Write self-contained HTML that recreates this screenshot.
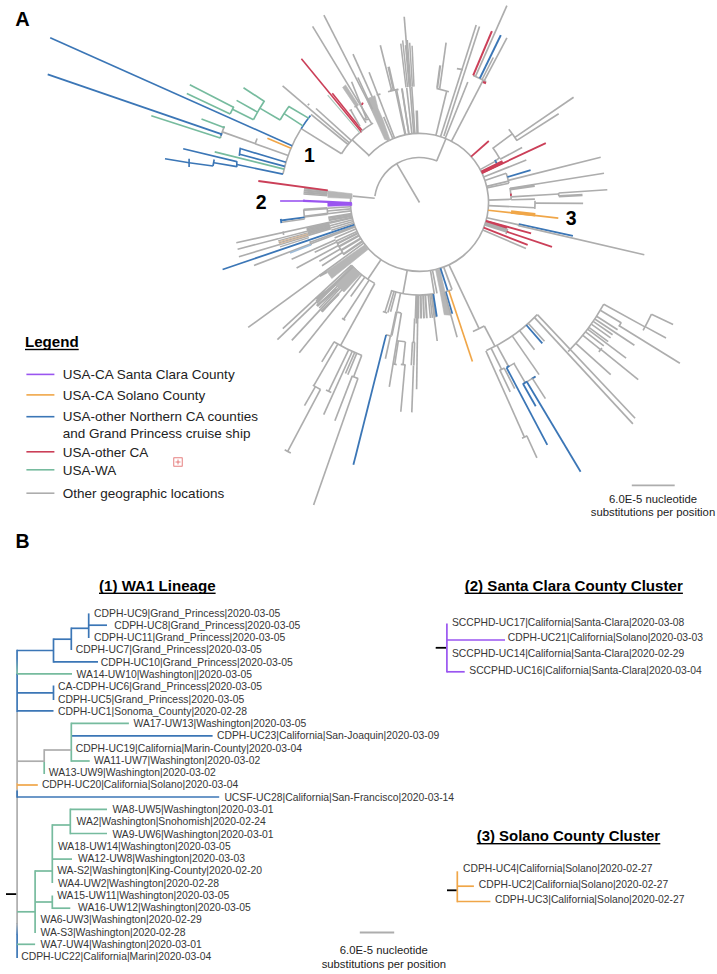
<!DOCTYPE html>
<html><head><meta charset="utf-8"><title>Figure</title>
<style>html,body{margin:0;padding:0;background:#fff}svg{display:block;font-family:"Liberation Sans",sans-serif}</style></head>
<body><svg width="717" height="974" viewBox="0 0 717 974">
<rect width="717" height="974" fill="#fff"/>
<text x="15.3" y="26.3" font-size="20" font-weight="bold" text-anchor="start" fill="#000" >A</text>
<text x="15.6" y="548.4" font-size="19.5" font-weight="bold" text-anchor="start" fill="#000" >B</text>
<text x="304.0" y="161.8" font-size="19.5" font-weight="bold" text-anchor="start" fill="#000" >1</text>
<text x="255.7" y="208.8" font-size="19.5" font-weight="bold" text-anchor="start" fill="#000" >2</text>
<text x="565.7" y="224.8" font-size="19.5" font-weight="bold" text-anchor="start" fill="#000" >3</text>
<rect x="25.0" y="348.8" width="53.7" height="1.4" fill="#000"/>
<text x="25.0" y="347.2" font-size="15.1" font-weight="bold" text-anchor="start" fill="#000" >Legend</text>
<line x1="26.4" y1="374.4" x2="54.4" y2="374.4" stroke="#9a55f0" stroke-width="1.6" stroke-linecap="butt"/>
<text x="62.8" y="379.1" font-size="13.5" font-weight="normal" text-anchor="start" fill="#222" >USA-CA Santa Clara County</text>
<line x1="26.4" y1="394.9" x2="54.4" y2="394.9" stroke="#f0a648" stroke-width="1.6" stroke-linecap="butt"/>
<text x="62.8" y="399.6" font-size="13.5" font-weight="normal" text-anchor="start" fill="#222" >USA-CA Solano County</text>
<line x1="26.4" y1="416.7" x2="54.4" y2="416.7" stroke="#3b76b6" stroke-width="1.6" stroke-linecap="butt"/>
<text x="62.8" y="421.4" font-size="13.5" font-weight="normal" text-anchor="start" fill="#222" >USA-other Northern CA counties</text>
<line x1="26.4" y1="451.8" x2="54.4" y2="451.8" stroke="#cb3f58" stroke-width="1.6" stroke-linecap="butt"/>
<text x="62.8" y="456.5" font-size="13.5" font-weight="normal" text-anchor="start" fill="#222" >USA-other CA</text>
<line x1="26.4" y1="469.8" x2="54.4" y2="469.8" stroke="#76bb9e" stroke-width="1.6" stroke-linecap="butt"/>
<text x="62.8" y="474.5" font-size="13.5" font-weight="normal" text-anchor="start" fill="#222" >USA-WA</text>
<line x1="26.4" y1="493.2" x2="54.4" y2="493.2" stroke="#adadad" stroke-width="1.6" stroke-linecap="butt"/>
<text x="62.8" y="497.9" font-size="13.5" font-weight="normal" text-anchor="start" fill="#222" >Other geographic locations</text>
<text x="62.8" y="437.7" font-size="13.5" font-weight="normal" text-anchor="start" fill="#222" >and Grand Princess cruise ship</text>
<g stroke="#e06060" stroke-width="0.8" fill="none"><rect x="173.8" y="457.8" width="8.4" height="8.4"/><line x1="175.5" y1="462" x2="180.5" y2="462"/><line x1="178" y1="459.5" x2="178" y2="464.5"/></g>
<line x1="631.8" y1="485.3" x2="674.7" y2="485.3" stroke="#adadad" stroke-width="1.8" stroke-linecap="butt"/>
<text x="653.0" y="502.8" font-size="11.3" font-weight="normal" text-anchor="middle" fill="#222" >6.0E-5 nucleotide</text>
<text x="653.0" y="516.4" font-size="11.3" font-weight="normal" text-anchor="middle" fill="#222" >substitutions per position</text>
<line x1="359.8" y1="932.5" x2="394.2" y2="932.5" stroke="#adadad" stroke-width="1.8" stroke-linecap="butt"/>
<text x="383.8" y="954.4" font-size="11.3" font-weight="normal" text-anchor="middle" fill="#222" >6.0E-5 nucleotide</text>
<text x="383.8" y="967.9" font-size="11.3" font-weight="normal" text-anchor="middle" fill="#222" >substitutions per position</text>
<rect x="99.0" y="592.6" width="116.6" height="1.4" fill="#000"/>
<text x="99.0" y="591.0" font-size="15.1" font-weight="bold" text-anchor="start" fill="#000" >(1) WA1 Lineage</text>
<rect x="464.7" y="592.6" width="218.2" height="1.4" fill="#000"/>
<text x="464.7" y="591.0" font-size="15.1" font-weight="bold" text-anchor="start" fill="#000" >(2) Santa Clara County Cluster</text>
<rect x="476.7" y="843.0" width="183.6" height="1.4" fill="#000"/>
<text x="476.7" y="841.4" font-size="14.95" font-weight="bold" text-anchor="start" fill="#000" >(3) Solano County Cluster</text>
<text x="94.1" y="616.6" font-size="10.37" font-weight="normal" text-anchor="start" fill="#363636" >CDPH-UC9|Grand_Princess|2020-03-05</text>
<text x="114.2" y="628.9" font-size="10.37" font-weight="normal" text-anchor="start" fill="#363636" >CDPH-UC8|Grand_Princess|2020-03-05</text>
<text x="94.1" y="641.1" font-size="10.37" font-weight="normal" text-anchor="start" fill="#363636" >CDPH-UC11|Grand_Princess|2020-03-05</text>
<text x="75.7" y="653.4" font-size="10.37" font-weight="normal" text-anchor="start" fill="#363636" >CDPH-UC7|Grand_Princess|2020-03-05</text>
<text x="100.8" y="665.7" font-size="10.37" font-weight="normal" text-anchor="start" fill="#363636" >CDPH-UC10|Grand_Princess|2020-03-05</text>
<text x="76.6" y="678.0" font-size="10.37" font-weight="normal" text-anchor="start" fill="#363636" >WA14-UW10|Washington||2020-03-05</text>
<text x="58.0" y="690.2" font-size="10.37" font-weight="normal" text-anchor="start" fill="#363636" >CA-CDPH-UC6|Grand_Princess|2020-03-05</text>
<text x="58.0" y="702.5" font-size="10.37" font-weight="normal" text-anchor="start" fill="#363636" >CDPH-UC5|Grand_Princess|2020-03-05</text>
<text x="58.0" y="714.8" font-size="10.37" font-weight="normal" text-anchor="start" fill="#363636" >CDPH-UC1|Sonoma_County|2020-02-28</text>
<text x="133.5" y="727.0" font-size="10.37" font-weight="normal" text-anchor="start" fill="#363636" >WA17-UW13|Washington|2020-03-05</text>
<text x="217.0" y="739.3" font-size="10.37" font-weight="normal" text-anchor="start" fill="#363636" >CDPH-UC23|California|San-Joaquin|2020-03-09</text>
<text x="75.7" y="751.6" font-size="10.37" font-weight="normal" text-anchor="start" fill="#363636" >CDPH-UC19|California|Marin-County|2020-03-04</text>
<text x="94.0" y="763.8" font-size="10.37" font-weight="normal" text-anchor="start" fill="#363636" >WA11-UW7|Washington|2020-03-02</text>
<text x="48.8" y="776.1" font-size="10.37" font-weight="normal" text-anchor="start" fill="#363636" >WA13-UW9|Washington|2020-03-02</text>
<text x="41.9" y="788.4" font-size="10.37" font-weight="normal" text-anchor="start" fill="#363636" >CDPH-UC20|California|Solano|2020-03-04</text>
<text x="224.4" y="800.6" font-size="10.37" font-weight="normal" text-anchor="start" fill="#363636" >UCSF-UC28|California|San-Francisco|2020-03-14</text>
<text x="112.4" y="812.9" font-size="10.37" font-weight="normal" text-anchor="start" fill="#363636" >WA8-UW5|Washington|2020-03-01</text>
<text x="76.6" y="825.2" font-size="10.37" font-weight="normal" text-anchor="start" fill="#363636" >WA2|Washington|Snohomish|2020-02-24</text>
<text x="112.4" y="837.5" font-size="10.37" font-weight="normal" text-anchor="start" fill="#363636" >WA9-UW6|Washington|2020-03-01</text>
<text x="57.9" y="849.7" font-size="10.37" font-weight="normal" text-anchor="start" fill="#363636" >WA18-UW14|Washington|2020-03-05</text>
<text x="78.0" y="862.0" font-size="10.37" font-weight="normal" text-anchor="start" fill="#363636" >WA12-UW8|Washington|2020-03-03</text>
<text x="57.2" y="874.3" font-size="10.37" font-weight="normal" text-anchor="start" fill="#363636" >WA-S2|Washington|King-County|2020-02-20</text>
<text x="57.9" y="886.5" font-size="10.37" font-weight="normal" text-anchor="start" fill="#363636" >WA4-UW2|Washington|2020-02-28</text>
<text x="57.2" y="898.8" font-size="10.37" font-weight="normal" text-anchor="start" fill="#363636" >WA15-UW11|Washington|2020-03-05</text>
<text x="78.0" y="911.1" font-size="10.37" font-weight="normal" text-anchor="start" fill="#363636" >WA16-UW12|Washington|2020-03-05</text>
<text x="40.5" y="923.4" font-size="10.37" font-weight="normal" text-anchor="start" fill="#363636" >WA6-UW3|Washington|2020-02-29</text>
<text x="40.5" y="935.6" font-size="10.37" font-weight="normal" text-anchor="start" fill="#363636" >WA-S3|Washington|2020-02-28</text>
<text x="40.5" y="947.9" font-size="10.37" font-weight="normal" text-anchor="start" fill="#363636" >WA7-UW4|Washington|2020-03-01</text>
<text x="21.2" y="960.2" font-size="10.37" font-weight="normal" text-anchor="start" fill="#363636" >CDPH-UC22|California|Marin|2020-03-04</text>
<defs><linearGradient id="g1" x1="0" y1="0" x2="0" y2="1"><stop offset="0" stop-color="#3b76b6"/><stop offset="0.35" stop-color="#3b76b6"/><stop offset="1" stop-color="#76bb9e"/></linearGradient><linearGradient id="g2" x1="0" y1="0" x2="0" y2="1"><stop offset="0" stop-color="#adadad"/><stop offset="1" stop-color="#3b76b6"/></linearGradient></defs>
<rect x="16.2" y="649.7" width="1.7" height="25.0" fill="url(#g1)"/>
<line x1="17.1" y1="673.8" x2="17.1" y2="712.5" stroke="#3b76b6" stroke-width="1.7" stroke-linecap="butt"/>
<line x1="17.1" y1="712.5" x2="17.1" y2="924.0" stroke="#adadad" stroke-width="1.7" stroke-linecap="butt"/>
<rect x="16.2" y="923.0" width="1.7" height="12.0" fill="url(#g2)"/>
<line x1="17.1" y1="934.8" x2="17.1" y2="958.0" stroke="#3b76b6" stroke-width="1.7" stroke-linecap="butt"/>
<line x1="17.1" y1="783.0" x2="17.1" y2="789.0" stroke="#e9b77c" stroke-width="1.7" stroke-linecap="butt"/>
<line x1="17.1" y1="790.5" x2="17.1" y2="797.8" stroke="#3b76b6" stroke-width="1.7" stroke-linecap="butt"/>
<line x1="17.1" y1="650.5" x2="53.5" y2="650.5" stroke="#3b76b6" stroke-width="1.7" stroke-linecap="butt"/>
<line x1="53.5" y1="638.4" x2="53.5" y2="662.7" stroke="#3b76b6" stroke-width="1.7" stroke-linecap="butt"/>
<line x1="53.5" y1="639.2" x2="71.3" y2="639.2" stroke="#3b76b6" stroke-width="1.7" stroke-linecap="butt"/>
<line x1="71.3" y1="627.5" x2="71.3" y2="650.0" stroke="#3b76b6" stroke-width="1.7" stroke-linecap="butt"/>
<line x1="71.3" y1="628.3" x2="88.7" y2="628.3" stroke="#3b76b6" stroke-width="1.7" stroke-linecap="butt"/>
<line x1="88.7" y1="613.4" x2="88.7" y2="638.0" stroke="#3b76b6" stroke-width="1.7" stroke-linecap="butt"/>
<line x1="88.7" y1="625.2" x2="107.0" y2="625.2" stroke="#3b76b6" stroke-width="1.7" stroke-linecap="butt"/>
<line x1="53.5" y1="661.9" x2="98.0" y2="661.9" stroke="#3b76b6" stroke-width="1.7" stroke-linecap="butt"/>
<line x1="17.1" y1="673.8" x2="72.0" y2="673.8" stroke="#76bb9e" stroke-width="1.7" stroke-linecap="butt"/>
<line x1="17.1" y1="692.9" x2="53.5" y2="692.9" stroke="#3b76b6" stroke-width="1.7" stroke-linecap="butt"/>
<line x1="53.5" y1="685.5" x2="53.5" y2="700.0" stroke="#3b76b6" stroke-width="1.7" stroke-linecap="butt"/>
<line x1="17.1" y1="710.8" x2="53.5" y2="710.8" stroke="#3b76b6" stroke-width="1.7" stroke-linecap="butt"/>
<line x1="71.3" y1="723.4" x2="128.9" y2="723.4" stroke="#76bb9e" stroke-width="1.7" stroke-linecap="butt"/>
<line x1="71.3" y1="735.8" x2="212.6" y2="735.8" stroke="#3b76b6" stroke-width="1.7" stroke-linecap="butt"/>
<line x1="71.3" y1="722.6" x2="71.3" y2="761.8" stroke="#76bb9e" stroke-width="1.7" stroke-linecap="butt"/>
<line x1="71.3" y1="761.0" x2="89.7" y2="761.0" stroke="#76bb9e" stroke-width="1.7" stroke-linecap="butt"/>
<line x1="44.2" y1="750.0" x2="71.3" y2="750.0" stroke="#adadad" stroke-width="1.7" stroke-linecap="butt"/>
<line x1="44.2" y1="749.2" x2="44.2" y2="762.0" stroke="#adadad" stroke-width="1.7" stroke-linecap="butt"/>
<line x1="44.2" y1="762.0" x2="44.2" y2="774.0" stroke="#76bb9e" stroke-width="1.7" stroke-linecap="butt"/>
<line x1="17.1" y1="761.2" x2="44.2" y2="761.2" stroke="#adadad" stroke-width="1.7" stroke-linecap="butt"/>
<line x1="17.1" y1="785.0" x2="37.8" y2="785.0" stroke="#f0a648" stroke-width="1.7" stroke-linecap="butt"/>
<line x1="17.1" y1="797.0" x2="219.2" y2="797.0" stroke="#3b76b6" stroke-width="1.7" stroke-linecap="butt"/>
<line x1="70.3" y1="809.4" x2="107.0" y2="809.4" stroke="#76bb9e" stroke-width="1.7" stroke-linecap="butt"/>
<line x1="70.3" y1="808.6" x2="70.3" y2="834.3" stroke="#76bb9e" stroke-width="1.7" stroke-linecap="butt"/>
<line x1="70.3" y1="833.5" x2="107.0" y2="833.5" stroke="#76bb9e" stroke-width="1.7" stroke-linecap="butt"/>
<line x1="52.3" y1="825.0" x2="70.3" y2="825.0" stroke="#76bb9e" stroke-width="1.7" stroke-linecap="butt"/>
<line x1="52.3" y1="824.2" x2="52.3" y2="883.0" stroke="#76bb9e" stroke-width="1.7" stroke-linecap="butt"/>
<line x1="52.3" y1="859.1" x2="72.0" y2="859.1" stroke="#76bb9e" stroke-width="1.7" stroke-linecap="butt"/>
<line x1="35.1" y1="871.0" x2="52.3" y2="871.0" stroke="#76bb9e" stroke-width="1.7" stroke-linecap="butt"/>
<line x1="35.1" y1="870.2" x2="35.1" y2="933.0" stroke="#76bb9e" stroke-width="1.7" stroke-linecap="butt"/>
<line x1="52.3" y1="895.5" x2="52.3" y2="909.0" stroke="#76bb9e" stroke-width="1.7" stroke-linecap="butt"/>
<line x1="35.1" y1="902.0" x2="52.3" y2="902.0" stroke="#76bb9e" stroke-width="1.7" stroke-linecap="butt"/>
<line x1="52.3" y1="908.2" x2="70.3" y2="908.2" stroke="#76bb9e" stroke-width="1.7" stroke-linecap="butt"/>
<line x1="17.1" y1="911.8" x2="35.1" y2="911.8" stroke="#76bb9e" stroke-width="1.7" stroke-linecap="butt"/>
<line x1="17.1" y1="944.3" x2="35.1" y2="944.3" stroke="#76bb9e" stroke-width="1.7" stroke-linecap="butt"/>
<line x1="6.0" y1="894.1" x2="16.2" y2="894.1" stroke="#000" stroke-width="1.8" stroke-linecap="butt"/>
<text x="451.9" y="625.5" font-size="10.3" font-weight="normal" text-anchor="start" fill="#363636" >SCCPHD-UC17|California|Santa-Clara|2020-03-08</text>
<text x="507.8" y="641.2" font-size="10.3" font-weight="normal" text-anchor="start" fill="#363636" >CDPH-UC21|California|Solano|2020-03-03</text>
<text x="451.9" y="657.4" font-size="10.3" font-weight="normal" text-anchor="start" fill="#363636" >SCCPHD-UC14|California|Santa-Clara|2020-02-29</text>
<text x="469.3" y="673.6" font-size="10.3" font-weight="normal" text-anchor="start" fill="#363636" >SCCPHD-UC16|California|Santa-Clara|2020-03-04</text>
<line x1="446.9" y1="623.4" x2="446.9" y2="672.6" stroke="#9a55f0" stroke-width="1.7" stroke-linecap="butt"/>
<line x1="446.9" y1="640.0" x2="505.0" y2="640.0" stroke="#9a55f0" stroke-width="1.7" stroke-linecap="butt"/>
<line x1="446.9" y1="671.8" x2="464.7" y2="671.8" stroke="#9a55f0" stroke-width="1.7" stroke-linecap="butt"/>
<line x1="435.7" y1="647.8" x2="446.0" y2="647.8" stroke="#000" stroke-width="1.8" stroke-linecap="butt"/>
<text x="463.1" y="872.3" font-size="10.3" font-weight="normal" text-anchor="start" fill="#363636" >CDPH-UC4|California|Solano|2020-02-27</text>
<text x="478.8" y="888.0" font-size="10.3" font-weight="normal" text-anchor="start" fill="#363636" >CDPH-UC2|California|Solano|2020-02-27</text>
<text x="495.0" y="903.3" font-size="10.3" font-weight="normal" text-anchor="start" fill="#363636" >CDPH-UC3|California|Solano|2020-02-27</text>
<line x1="457.3" y1="871.3" x2="457.3" y2="902.3" stroke="#f0a648" stroke-width="1.7" stroke-linecap="butt"/>
<line x1="457.3" y1="886.2" x2="473.9" y2="886.2" stroke="#f0a648" stroke-width="1.7" stroke-linecap="butt"/>
<line x1="457.3" y1="901.5" x2="490.4" y2="901.5" stroke="#f0a648" stroke-width="1.7" stroke-linecap="butt"/>
<line x1="447.0" y1="890.3" x2="456.5" y2="890.3" stroke="#000" stroke-width="1.8" stroke-linecap="butt"/>
<g id="treeA">
<line x1="419.5" y1="202.5" x2="396.7" y2="163.7" stroke="#adadad" stroke-width="1.65"/>
<path d="M374.9,196.2 A45.0,45.0 0 0 1 437.1,161.1" fill="none" stroke="#adadad" stroke-width="1.65"/>
<line x1="374.7" y1="198.2" x2="352.8" y2="196.1" stroke="#adadad" stroke-width="1.65"/>
<line x1="436.7" y1="160.9" x2="445.9" y2="138.8" stroke="#adadad" stroke-width="1.65"/>
<path d="M368.2,156.3 A69.0,69.0 0 1 1 350.7,197.7" fill="none" stroke="#adadad" stroke-width="1.65"/>
<line x1="369.0" y1="155.4" x2="352.2" y2="139.8" stroke="#adadad" stroke-width="1.65"/>
<path d="M341.5,153.7 A92.0,92.0 0 0 1 361.1,131.4" fill="none" stroke="#adadad" stroke-width="1.65"/>
<line x1="341.5" y1="153.7" x2="301.2" y2="128.6" stroke="#adadad" stroke-width="1.65"/>
<path d="M282.9,174.1 A139.5,139.5 0 0 1 301.2,128.6" fill="none" stroke="#adadad" stroke-width="1.65"/>
<path d="M301.2,128.6 A139.5,139.5 0 0 1 310.5,115.5" fill="none" stroke="#3b76b6" stroke-width="1.65"/>
<line x1="349.4" y1="142.9" x2="282.6" y2="85.9" stroke="#adadad" stroke-width="1.65"/>
<path d="M307.8,105.3 A148.1,148.1 0 0 1 309.2,103.7" fill="none" stroke="#adadad" stroke-width="1.65"/>
<line x1="351.4" y1="140.7" x2="316.0" y2="108.5" stroke="#adadad" stroke-width="1.65"/>
<line x1="348.1" y1="144.5" x2="311.0" y2="114.4" stroke="#adadad" stroke-width="1.65"/>
<line x1="361.7" y1="132.2" x2="301.4" y2="58.7" stroke="#cb3f58" stroke-width="1.6"/>
<line x1="359.7" y1="132.6" x2="327.7" y2="95.1" stroke="#a9c7ba" stroke-width="1.1"/>
<line x1="362.1" y1="130.6" x2="332.3" y2="93.2" stroke="#cb3f58" stroke-width="1.6"/>
<line x1="292.1" y1="145.7" x2="50.2" y2="37.7" stroke="#3b76b6" stroke-width="1.7"/>
<path d="M220.4,137.4 A209.5,209.5 0 0 1 224.3,126.4" fill="none" stroke="#adadad" stroke-width="1.65"/>
<line x1="288.2" y1="155.5" x2="222.3" y2="131.9" stroke="#adadad" stroke-width="1.65"/>
<path d="M255.2,143.7 A174.5,174.5 0 0 1 257.1,138.5" fill="none" stroke="#adadad" stroke-width="1.65"/>
<line x1="223.9" y1="127.6" x2="201.5" y2="119.0" stroke="#76bb9e" stroke-width="1.65"/>
<line x1="221.4" y1="134.2" x2="47.7" y2="74.3" stroke="#3b76b6" stroke-width="1.8"/>
<line x1="220.2" y1="138.0" x2="151.3" y2="115.7" stroke="#76bb9e" stroke-width="1.65"/>
<path d="M220.1,138.1 A209.5,209.5 0 0 1 220.6,136.7" fill="none" stroke="#76bb9e" stroke-width="1.65"/>
<path d="M223.7,128.1 A209.5,209.5 0 0 1 224.3,126.4" fill="none" stroke="#76bb9e" stroke-width="1.65"/>
<path d="M220.9,135.7 A209.5,209.5 0 0 1 221.8,133.3" fill="none" stroke="#3b76b6" stroke-width="1.65"/>
<line x1="291.0" y1="148.3" x2="267.4" y2="138.3" stroke="#f0a648" stroke-width="1.65"/>
<line x1="233.5" y1="107.2" x2="189.8" y2="84.8" stroke="#76bb9e" stroke-width="1.65"/>
<line x1="230.2" y1="113.9" x2="186.8" y2="93.6" stroke="#76bb9e" stroke-width="1.65"/>
<path d="M230.2,113.8 A209.0,209.0 0 0 1 233.8,106.6" fill="none" stroke="#76bb9e" stroke-width="1.65"/>
<line x1="253.5" y1="119.7" x2="232.5" y2="109.2" stroke="#76bb9e" stroke-width="1.65"/>
<path d="M253.5,119.7 A185.5,185.5 0 0 1 264.5,100.7" fill="none" stroke="#76bb9e" stroke-width="1.65"/>
<line x1="264.1" y1="101.2" x2="243.5" y2="87.7" stroke="#76bb9e" stroke-width="1.65"/>
<line x1="257.5" y1="112.1" x2="236.6" y2="100.4" stroke="#76bb9e" stroke-width="1.65"/>
<line x1="280.1" y1="120.0" x2="259.8" y2="108.1" stroke="#76bb9e" stroke-width="1.65"/>
<path d="M280.1,120.0 A162.0,162.0 0 0 1 288.9,106.6" fill="none" stroke="#76bb9e" stroke-width="1.65"/>
<line x1="302.9" y1="125.9" x2="284.1" y2="113.6" stroke="#76bb9e" stroke-width="1.65"/>
<polyline points="288.4,106.2 308.9,118.4" fill="none" stroke="#76bb9e" stroke-width="1.65" stroke-linejoin="round"/>
<polyline points="183.2,148.8 236.8,161.6" fill="none" stroke="#3b76b6" stroke-width="1.65" stroke-linejoin="round"/>
<polyline points="236.8,161.1 236.8,167.1" fill="none" stroke="#3b76b6" stroke-width="1.65" stroke-linejoin="round"/>
<polyline points="165.0,158.8 189.1,162.8" fill="none" stroke="#3b76b6" stroke-width="1.65" stroke-linejoin="round"/>
<polyline points="189.1,158.8 189.1,167.0" fill="none" stroke="#3b76b6" stroke-width="1.65" stroke-linejoin="round"/>
<polyline points="189.1,162.8 213.0,166.0" fill="none" stroke="#3b76b6" stroke-width="1.65" stroke-linejoin="round"/>
<polyline points="213.0,166.0 214.2,159.5" fill="none" stroke="#3b76b6" stroke-width="1.65" stroke-linejoin="round"/>
<polyline points="214.0,162.8 236.8,166.6" fill="none" stroke="#3b76b6" stroke-width="1.65" stroke-linejoin="round"/>
<line x1="282.9" y1="174.1" x2="236.8" y2="164.5" stroke="#3b76b6" stroke-width="1.65"/>
<line x1="285.9" y1="162.3" x2="241.0" y2="148.8" stroke="#3b76b6" stroke-width="1.65"/>
<line x1="284.8" y1="166.4" x2="239.7" y2="154.3" stroke="#3b76b6" stroke-width="1.65"/>
<polyline points="240.3,147.7 239.3,155.9" fill="none" stroke="#3b76b6" stroke-width="1.65" stroke-linejoin="round"/>
<line x1="284.1" y1="169.1" x2="214.7" y2="151.9" stroke="#76bb9e" stroke-width="1.65"/>
<path d="M361.1,131.4 A92.0,92.0 0 0 1 373.1,123.1" fill="none" stroke="#adadad" stroke-width="1.65"/>
<line x1="371.8" y1="123.9" x2="312.6" y2="26.4" stroke="#adadad" stroke-width="1.65"/>
<line x1="388.1" y1="141.0" x2="323.9" y2="15.1" stroke="#adadad" stroke-width="1.65"/>
<line x1="391.5" y1="89.9" x2="380.3" y2="45.2" stroke="#adadad" stroke-width="1.65"/>
<line x1="372.5" y1="97.6" x2="353.0" y2="54.2" stroke="#adadad" stroke-width="1.65"/>
<polygon points="366.5,99.1 374.9,95.7 378.1,108.6 383.0,119.7 390.3,140.7 384.7,139.5" fill="#b6b6b6" stroke="#b6b6b6" stroke-width="0.6"/>
<polygon points="342.6,87.4 345.6,84.9 358.6,105.1 355.8,106.9" fill="#b6b6b6" stroke="#b6b6b6" stroke-width="0.6"/>
<polyline points="351.6,81.8 366.5,118.6" fill="none" stroke="#adadad" stroke-width="1.65" stroke-linejoin="round"/>
<polyline points="357.9,77.5 372.5,109.3" fill="none" stroke="#adadad" stroke-width="1.65" stroke-linejoin="round"/>
<polyline points="356.2,106.5 366.0,122.8" fill="none" stroke="#adadad" stroke-width="1.65" stroke-linejoin="round"/>
<polyline points="364.2,118.3 366.5,119.7 369.1,119.0" fill="none" stroke="#adadad" stroke-width="1.65" stroke-linejoin="round"/>
<polyline points="349.5,110.5 352.0,109.7" fill="none" stroke="#adadad" stroke-width="1.65" stroke-linejoin="round"/>
<polyline points="354.4,106.9 357.2,105.8" fill="none" stroke="#adadad" stroke-width="1.65" stroke-linejoin="round"/>
<polyline points="350.9,110.3 360.0,126.4" fill="none" stroke="#adadad" stroke-width="1.65" stroke-linejoin="round"/>
<polyline points="361.5,103.4 363.2,104.1" fill="none" stroke="#cb3f58" stroke-width="2.5" stroke-linejoin="round"/>
<line x1="394.6" y1="138.2" x2="369.1" y2="72.3" stroke="#adadad" stroke-width="1.65"/>
<polyline points="376.7,94.9 380.5,94.1" fill="none" stroke="#adadad" stroke-width="1.65" stroke-linejoin="round"/>
<line x1="392.9" y1="138.8" x2="383.7" y2="116.9" stroke="#adadad" stroke-width="1.65"/>
<line x1="393.7" y1="89.4" x2="388.6" y2="66.7" stroke="#adadad" stroke-width="2.5"/>
<path d="M388.0,91.8 A115.1,115.1 0 0 1 398.3,89.4" fill="none" stroke="#adadad" stroke-width="1.65"/>
<line x1="405.1" y1="135.0" x2="395.6" y2="90.4" stroke="#adadad" stroke-width="1.65"/>
<line x1="408.9" y1="134.3" x2="401.8" y2="88.4" stroke="#adadad" stroke-width="1.65"/>
<line x1="413.8" y1="133.7" x2="404.2" y2="16.7" stroke="#adadad" stroke-width="1.65"/>
<line x1="406.0" y1="87.3" x2="400.8" y2="43.6" stroke="#adadad" stroke-width="1.5"/>
<line x1="407.6" y1="87.1" x2="402.7" y2="40.4" stroke="#adadad" stroke-width="1.5"/>
<line x1="409.2" y1="87.0" x2="405.5" y2="45.1" stroke="#adadad" stroke-width="1.5"/>
<line x1="410.8" y1="86.8" x2="407.3" y2="40.0" stroke="#adadad" stroke-width="1.5"/>
<line x1="412.4" y1="86.7" x2="409.7" y2="42.8" stroke="#adadad" stroke-width="1.5"/>
<line x1="414.0" y1="86.6" x2="412.1" y2="45.7" stroke="#adadad" stroke-width="1.5"/>
<line x1="409.0" y1="134.3" x2="402.1" y2="88.7" stroke="#adadad" stroke-width="1.65"/>
<line x1="411.9" y1="133.9" x2="406.7" y2="87.9" stroke="#adadad" stroke-width="1.65"/>
<line x1="414.9" y1="133.7" x2="411.8" y2="87.0" stroke="#adadad" stroke-width="1.65"/>
<line x1="417.5" y1="133.5" x2="416.8" y2="110.5" stroke="#adadad" stroke-width="2.5"/>
<polyline points="390.0,90.4 398.4,89.5" fill="none" stroke="#adadad" stroke-width="1.65" stroke-linejoin="round"/>
<line x1="405.7" y1="134.9" x2="396.7" y2="90.4" stroke="#adadad" stroke-width="1.65"/>
<polyline points="446.1,42.7 439.7,88.7" fill="none" stroke="#adadad" stroke-width="1.65" stroke-linejoin="round"/>
<polyline points="440.2,65.3 437.2,87.9" fill="none" stroke="#adadad" stroke-width="2.2" stroke-linejoin="round"/>
<polyline points="436.5,88.4 448.9,91.7" fill="none" stroke="#adadad" stroke-width="1.65" stroke-linejoin="round"/>
<line x1="435.9" y1="135.5" x2="446.6" y2="91.5" stroke="#adadad" stroke-width="1.65"/>
<line x1="440.5" y1="136.8" x2="476.2" y2="25.1" stroke="#adadad" stroke-width="1.65"/>
<polyline points="479.5,26.4 443.9,136.1" fill="none" stroke="#adadad" stroke-width="1.65" stroke-linejoin="round"/>
<polyline points="456.9,68.6 463.0,69.6" fill="none" stroke="#adadad" stroke-width="1.65" stroke-linejoin="round"/>
<line x1="445.2" y1="138.5" x2="467.8" y2="82.0" stroke="#adadad" stroke-width="1.65"/>
<path d="M473.2,75.4 A138.0,138.0 0 0 1 486.2,81.7" fill="none" stroke="#adadad" stroke-width="1.65"/>
<line x1="451.4" y1="141.3" x2="483.2" y2="80.1" stroke="#adadad" stroke-width="1.65"/>
<line x1="473.2" y1="75.4" x2="491.9" y2="31.2" stroke="#cb3f58" stroke-width="2.0"/>
<line x1="475.5" y1="76.4" x2="506.9" y2="5.6" stroke="#adadad" stroke-width="1.65"/>
<line x1="479.8" y1="78.4" x2="500.8" y2="35.1" stroke="#3b76b6" stroke-width="2.0"/>
<line x1="482.1" y1="79.5" x2="493.3" y2="57.5" stroke="#adadad" stroke-width="1.65"/>
<line x1="484.3" y1="80.6" x2="506.9" y2="37.9" stroke="#adadad" stroke-width="1.65"/>
<polyline points="483.0,82.0 486.0,83.1" fill="none" stroke="#cb3f58" stroke-width="2.2" stroke-linejoin="round"/>
<line x1="471.1" y1="156.7" x2="488.8" y2="141.0" stroke="#cb3f58" stroke-width="1.8"/>
<path d="M508.8,129.2 A115.5,115.5 0 0 1 517.1,140.8" fill="none" stroke="#adadad" stroke-width="1.65"/>
<line x1="514.9" y1="137.4" x2="573.6" y2="97.3" stroke="#adadad" stroke-width="1.65"/>
<line x1="516.9" y1="140.4" x2="558.7" y2="113.8" stroke="#adadad" stroke-width="1.65"/>
<line x1="493.1" y1="148.1" x2="512.3" y2="133.8" stroke="#adadad" stroke-width="1.65"/>
<path d="M492.6,147.4 A91.5,91.5 0 0 1 499.6,158.3" fill="none" stroke="#adadad" stroke-width="1.65"/>
<line x1="500.1" y1="159.3" x2="522.1" y2="147.5" stroke="#adadad" stroke-width="1.65"/>
<polyline points="500.0,157.4 495.8,160.7" fill="none" stroke="#adadad" stroke-width="1.65" stroke-linejoin="round"/>
<path d="M494.8,160.0 A86.5,86.5 0 0 1 496.8,163.7" fill="none" stroke="#3b76b6" stroke-width="1.8"/>
<line x1="480.1" y1="169.6" x2="495.1" y2="161.4" stroke="#adadad" stroke-width="1.65"/>
<line x1="481.9" y1="173.1" x2="545.8" y2="143.1" stroke="#cb3f58" stroke-width="1.8"/>
<line x1="481.5" y1="172.3" x2="502.8" y2="161.9" stroke="#cb3f58" stroke-width="3.5"/>
<line x1="483.6" y1="177.0" x2="526.3" y2="160.0" stroke="#adadad" stroke-width="1.65"/>
<path d="M506.2,173.3 A91.5,91.5 0 0 1 508.9,183.2" fill="none" stroke="#adadad" stroke-width="1.65"/>
<line x1="507.4" y1="177.0" x2="530.6" y2="170.2" stroke="#3b76b6" stroke-width="1.8"/>
<line x1="508.3" y1="180.4" x2="600.7" y2="157.3" stroke="#adadad" stroke-width="1.65"/>
<line x1="484.9" y1="180.5" x2="506.2" y2="173.3" stroke="#adadad" stroke-width="1.65"/>
<line x1="486.6" y1="186.4" x2="508.5" y2="181.1" stroke="#adadad" stroke-width="1.65"/>
<line x1="486.9" y1="187.9" x2="508.9" y2="183.2" stroke="#adadad" stroke-width="1.65"/>
<path d="M510.0,187.8 A91.7,91.7 0 0 1 511.2,199.8" fill="none" stroke="#adadad" stroke-width="1.65"/>
<line x1="510.2" y1="189.3" x2="534.7" y2="185.7" stroke="#adadad" stroke-width="2.5"/>
<line x1="510.1" y1="188.2" x2="604.0" y2="173.3" stroke="#adadad" stroke-width="1.65"/>
<line x1="511.0" y1="196.9" x2="558.6" y2="194.0" stroke="#adadad" stroke-width="1.65"/>
<line x1="558.6" y1="193.0" x2="607.3" y2="189.7" stroke="#adadad" stroke-width="1.65"/>
<line x1="558.8" y1="196.2" x2="582.5" y2="195.1" stroke="#adadad" stroke-width="2.5"/>
<path d="M558.6,193.0 A139.4,139.4 0 0 1 558.8,196.2" fill="none" stroke="#adadad" stroke-width="1.65"/>
<line x1="511.2" y1="199.8" x2="534.9" y2="199.1" stroke="#adadad" stroke-width="1.65"/>
<line x1="488.5" y1="200.1" x2="511.1" y2="199.3" stroke="#adadad" stroke-width="1.65"/>
<path d="M510.8,193.7 A91.7,91.7 0 0 1 511.0,195.8" fill="none" stroke="#cb3f58" stroke-width="1.8"/>
<path d="M535.0,200.7 A115.5,115.5 0 0 1 534.8,208.9" fill="none" stroke="#adadad" stroke-width="1.65"/>
<line x1="535.0" y1="203.1" x2="583.1" y2="203.4" stroke="#adadad" stroke-width="1.65"/>
<line x1="488.4" y1="205.6" x2="534.9" y2="207.7" stroke="#adadad" stroke-width="1.65"/>
<line x1="488.1" y1="210.2" x2="558.3" y2="218.1" stroke="#f0a648" stroke-width="1.65"/>
<line x1="511.0" y1="212.1" x2="535.3" y2="214.7" stroke="#f0a648" stroke-width="3.5"/>
<line x1="486.8" y1="217.7" x2="518.8" y2="224.9" stroke="#adadad" stroke-width="1.65"/>
<path d="M519.1,223.7 A101.8,101.8 0 0 1 518.5,226.3" fill="none" stroke="#adadad" stroke-width="1.65"/>
<line x1="519.0" y1="224.2" x2="572.9" y2="235.9" stroke="#3b76b6" stroke-width="1.8"/>
<line x1="518.7" y1="225.6" x2="644.3" y2="254.8" stroke="#adadad" stroke-width="1.65"/>
<line x1="486.0" y1="220.9" x2="531.1" y2="233.4" stroke="#cb3f58" stroke-width="1.8"/>
<line x1="485.8" y1="221.8" x2="506.9" y2="227.9" stroke="#cb3f58" stroke-width="3"/>
<line x1="485.1" y1="223.8" x2="507.0" y2="230.9" stroke="#adadad" stroke-width="4"/>
<path d="M507.7,228.6 A92.0,92.0 0 0 1 506.0,234.0" fill="none" stroke="#adadad" stroke-width="1.65"/>
<line x1="506.7" y1="231.7" x2="552.0" y2="246.8" stroke="#cb3f58" stroke-width="1.8"/>
<line x1="483.7" y1="227.7" x2="527.7" y2="244.9" stroke="#cb3f58" stroke-width="1.8"/>
<line x1="482.8" y1="229.9" x2="526.0" y2="248.6" stroke="#adadad" stroke-width="1.65"/>
<line x1="449.0" y1="264.9" x2="479.1" y2="328.6" stroke="#adadad" stroke-width="1.65"/>
<path d="M484.3,326.0 A139.5,139.5 0 0 1 472.9,331.4" fill="none" stroke="#adadad" stroke-width="1.65"/>
<line x1="484.3" y1="326.0" x2="495.0" y2="346.4" stroke="#adadad" stroke-width="1.65"/>
<path d="M537.2,314.6 A162.5,162.5 0 0 1 486.4,350.6" fill="none" stroke="#adadad" stroke-width="1.65"/>
<line x1="485.9" y1="350.8" x2="524.4" y2="437.1" stroke="#adadad" stroke-width="1.65"/>
<path d="M527.3,435.8 A257.0,257.0 0 0 1 522.0,438.2" fill="none" stroke="#adadad" stroke-width="1.65"/>
<line x1="526.9" y1="436.0" x2="536.9" y2="457.8" stroke="#adadad" stroke-width="1.65"/>
<line x1="491.2" y1="348.3" x2="501.6" y2="369.4" stroke="#adadad" stroke-width="1.65"/>
<path d="M504.5,367.9 A186.0,186.0 0 0 1 499.3,370.5" fill="none" stroke="#adadad" stroke-width="1.65"/>
<line x1="499.9" y1="370.2" x2="510.2" y2="391.9" stroke="#adadad" stroke-width="1.65"/>
<line x1="504.2" y1="368.1" x2="514.7" y2="388.6" stroke="#adadad" stroke-width="1.65"/>
<line x1="497.0" y1="345.3" x2="508.5" y2="366.5" stroke="#adadad" stroke-width="1.65"/>
<path d="M514.9,362.9 A186.6,186.6 0 0 1 507.1,367.3" fill="none" stroke="#adadad" stroke-width="1.65"/>
<path d="M509.4,366.0 A186.6,186.6 0 0 1 506.5,367.6" fill="none" stroke="#3b76b6" stroke-width="1.8"/>
<line x1="506.5" y1="367.6" x2="547.3" y2="444.9" stroke="#3b76b6" stroke-width="1.8"/>
<line x1="513.9" y1="363.4" x2="525.3" y2="382.8" stroke="#adadad" stroke-width="1.65"/>
<path d="M535.5,376.4 A209.0,209.0 0 0 1 523.1,384.0" fill="none" stroke="#adadad" stroke-width="1.65"/>
<path d="M527.1,381.6 A209.0,209.0 0 0 1 522.7,384.2" fill="none" stroke="#3b76b6" stroke-width="1.8"/>
<path d="M535.5,376.4 A209.0,209.0 0 0 1 531.8,378.8" fill="none" stroke="#3b76b6" stroke-width="1.8"/>
<line x1="523.1" y1="384.0" x2="535.7" y2="406.3" stroke="#3b76b6" stroke-width="1.8"/>
<line x1="526.8" y1="381.8" x2="580.6" y2="471.8" stroke="#3b76b6" stroke-width="1.8"/>
<line x1="532.4" y1="378.4" x2="545.4" y2="398.6" stroke="#adadad" stroke-width="1.65"/>
<line x1="512.2" y1="335.9" x2="539.1" y2="374.6" stroke="#adadad" stroke-width="1.65"/>
<line x1="519.5" y1="330.6" x2="534.5" y2="349.7" stroke="#adadad" stroke-width="1.65"/>
<line x1="526.3" y1="325.0" x2="542.3" y2="343.3" stroke="#3b76b6" stroke-width="1.8"/>
<line x1="528.2" y1="323.3" x2="544.5" y2="341.3" stroke="#adadad" stroke-width="1.65"/>
<path d="M603.8,304.2 A210.5,210.5 0 0 1 568.1,351.6" fill="none" stroke="#adadad" stroke-width="1.65"/>
<polyline points="534.4,317.4 632.9,423.9" fill="none" stroke="#adadad" stroke-width="1.65" stroke-linejoin="round"/>
<polyline points="537.4,314.6 635.1,418.3" fill="none" stroke="#adadad" stroke-width="1.65" stroke-linejoin="round"/>
<line x1="603.8" y1="304.2" x2="644.9" y2="326.9" stroke="#adadad" stroke-width="1.65"/>
<path d="M651.5,314.2 A257.5,257.5 0 0 1 643.1,330.3" fill="none" stroke="#adadad" stroke-width="1.65"/>
<line x1="651.5" y1="314.2" x2="673.1" y2="324.5" stroke="#adadad" stroke-width="1.65"/>
<line x1="645.1" y1="326.6" x2="666.0" y2="338.0" stroke="#adadad" stroke-width="1.65"/>
<line x1="600.3" y1="310.3" x2="621.1" y2="322.7" stroke="#adadad" stroke-width="1.65"/>
<path d="M621.3,322.3 A234.7,234.7 0 0 1 618.8,326.5" fill="none" stroke="#adadad" stroke-width="1.65"/>
<line x1="619.2" y1="325.8" x2="679.9" y2="363.3" stroke="#adadad" stroke-width="1.65"/>
<line x1="596.6" y1="316.2" x2="617.6" y2="329.7" stroke="#adadad" stroke-width="1.65"/>
<line x1="594.8" y1="319.0" x2="634.4" y2="345.3" stroke="#adadad" stroke-width="1.65"/>
<line x1="593.2" y1="321.4" x2="612.6" y2="334.7" stroke="#adadad" stroke-width="1.65"/>
<line x1="591.3" y1="324.1" x2="610.6" y2="337.8" stroke="#adadad" stroke-width="1.65"/>
<line x1="588.9" y1="327.4" x2="608.2" y2="341.7" stroke="#adadad" stroke-width="1.65"/>
<line x1="587.6" y1="329.2" x2="626.1" y2="358.2" stroke="#adadad" stroke-width="1.65"/>
<line x1="585.6" y1="331.8" x2="603.8" y2="345.9" stroke="#adadad" stroke-width="1.65"/>
<line x1="582.9" y1="335.3" x2="600.6" y2="349.7" stroke="#adadad" stroke-width="1.65"/>
<path d="M601.9,348.1 A233.4,233.4 0 0 1 598.8,351.9" fill="none" stroke="#adadad" stroke-width="1.65"/>
<line x1="600.9" y1="349.4" x2="638.2" y2="379.6" stroke="#adadad" stroke-width="1.65"/>
<line x1="575.9" y1="343.4" x2="610.7" y2="374.7" stroke="#adadad" stroke-width="1.65"/>
<line x1="407.2" y1="270.4" x2="403.0" y2="293.5" stroke="#adadad" stroke-width="1.65"/>
<path d="M434.0,293.9 A92.5,92.5 0 0 1 390.9,290.5" fill="none" stroke="#adadad" stroke-width="1.65"/>
<line x1="416.3" y1="294.9" x2="415.5" y2="318.4" stroke="#adadad" stroke-width="2.0"/>
<line x1="418.5" y1="295.0" x2="418.3" y2="318.5" stroke="#adadad" stroke-width="2.0"/>
<line x1="420.8" y1="295.0" x2="421.1" y2="318.5" stroke="#adadad" stroke-width="2.0"/>
<line x1="423.1" y1="294.9" x2="424.0" y2="318.4" stroke="#adadad" stroke-width="2.0"/>
<line x1="425.3" y1="294.8" x2="426.8" y2="318.3" stroke="#adadad" stroke-width="2.0"/>
<line x1="417.1" y1="295.0" x2="416.3" y2="323.5" stroke="#adadad" stroke-width="1.65"/>
<line x1="428.2" y1="294.6" x2="430.4" y2="318.0" stroke="#adadad" stroke-width="1.65"/>
<line x1="429.8" y1="294.4" x2="432.4" y2="317.8" stroke="#adadad" stroke-width="1.65"/>
<line x1="432.4" y1="294.1" x2="435.6" y2="317.4" stroke="#adadad" stroke-width="2.0"/>
<line x1="433.3" y1="294.0" x2="436.8" y2="316.7" stroke="#3b76b6" stroke-width="1.8"/>
<line x1="431.3" y1="294.3" x2="437.2" y2="341.0" stroke="#adadad" stroke-width="1.65"/>
<line x1="430.5" y1="270.6" x2="434.3" y2="293.8" stroke="#adadad" stroke-width="1.65"/>
<line x1="432.5" y1="270.3" x2="437.0" y2="293.3" stroke="#adadad" stroke-width="1.65"/>
<polygon points="435.6,269.9 440.0,269.0 445.0,291.8 440.3,293.0" fill="#b6b6b6" stroke="#b6b6b6" stroke-width="0.6"/>
<polygon points="440.3,293.0 445.0,291.8 450.7,315.2 444.2,314.7" fill="#b6b6b6" stroke="#b6b6b6" stroke-width="0.6"/>
<line x1="440.5" y1="268.2" x2="447.8" y2="291.1" stroke="#3b76b6" stroke-width="1.8"/>
<path d="M451.8,289.7 A93.0,93.0 0 0 1 445.4,291.8" fill="none" stroke="#adadad" stroke-width="1.65"/>
<line x1="445.8" y1="291.7" x2="452.3" y2="313.8" stroke="#3b76b6" stroke-width="1.8"/>
<line x1="448.9" y1="290.7" x2="472.4" y2="361.5" stroke="#f0a648" stroke-width="1.65"/>
<line x1="444.5" y1="292.1" x2="457.1" y2="337.3" stroke="#adadad" stroke-width="1.65"/>
<line x1="443.7" y1="267.1" x2="452.1" y2="289.6" stroke="#adadad" stroke-width="1.65"/>
<line x1="391.7" y1="290.7" x2="384.9" y2="312.2" stroke="#adadad" stroke-width="1.65"/>
<line x1="394.0" y1="291.4" x2="387.9" y2="312.6" stroke="#adadad" stroke-width="1.65"/>
<line x1="395.9" y1="291.9" x2="390.6" y2="311.8" stroke="#adadad" stroke-width="1.65"/>
<path d="M387.2,312.9 A115.0,115.0 0 0 1 382.8,311.5" fill="none" stroke="#adadad" stroke-width="1.65"/>
<line x1="400.6" y1="293.0" x2="396.8" y2="311.2" stroke="#adadad" stroke-width="1.65"/>
<path d="M401.2,313.0 A112.0,112.0 0 0 1 395.6,311.9" fill="none" stroke="#adadad" stroke-width="1.65"/>
<line x1="396.4" y1="312.1" x2="391.5" y2="335.6" stroke="#adadad" stroke-width="2.5"/>
<path d="M391.8,336.2 A136.5,136.5 0 0 1 386.0,334.8" fill="none" stroke="#adadad" stroke-width="1.65"/>
<line x1="390.4" y1="335.9" x2="385.4" y2="358.8" stroke="#adadad" stroke-width="1.65"/>
<line x1="386.1" y1="334.9" x2="353.4" y2="464.8" stroke="#3b76b6" stroke-width="1.8"/>
<line x1="401.4" y1="313.0" x2="389.3" y2="386.8" stroke="#adadad" stroke-width="1.65"/>
<path d="M405.4,341.8 A140.0,140.0 0 0 1 396.9,340.7" fill="none" stroke="#adadad" stroke-width="1.65"/>
<line x1="398.3" y1="340.9" x2="394.7" y2="364.3" stroke="#adadad" stroke-width="1.65"/>
<path d="M396.7,364.6 A163.7,163.7 0 0 1 392.8,364.0" fill="none" stroke="#adadad" stroke-width="1.65"/>
<line x1="405.4" y1="341.8" x2="403.0" y2="364.7" stroke="#adadad" stroke-width="1.65"/>
<path d="M405.6,364.9 A163.0,163.0 0 0 1 400.8,364.4" fill="none" stroke="#adadad" stroke-width="1.65"/>
<line x1="405.0" y1="364.9" x2="400.8" y2="411.7" stroke="#adadad" stroke-width="1.65"/>
<line x1="414.6" y1="318.4" x2="413.6" y2="342.4" stroke="#adadad" stroke-width="1.65"/>
<path d="M414.9,342.4 A140.0,140.0 0 0 1 412.2,342.3" fill="none" stroke="#adadad" stroke-width="1.65"/>
<line x1="412.4" y1="342.3" x2="411.3" y2="365.3" stroke="#adadad" stroke-width="1.65"/>
<line x1="414.6" y1="342.4" x2="413.8" y2="365.4" stroke="#adadad" stroke-width="1.65"/>
<line x1="413.5" y1="365.4" x2="411.8" y2="412.4" stroke="#adadad" stroke-width="1.65"/>
<line x1="418.0" y1="295.0" x2="416.6" y2="389.3" stroke="#adadad" stroke-width="1.65"/>
<line x1="380.9" y1="259.7" x2="367.8" y2="279.2" stroke="#adadad" stroke-width="1.65"/>
<path d="M374.7,283.4 A92.5,92.5 0 0 1 351.5,265.2" fill="none" stroke="#adadad" stroke-width="1.65"/>
<line x1="374.8" y1="283.5" x2="340.5" y2="345.6" stroke="#adadad" stroke-width="1.65"/>
<path d="M362.0,355.5 A163.5,163.5 0 0 1 333.8,341.8" fill="none" stroke="#adadad" stroke-width="1.65"/>
<line x1="334.1" y1="341.9" x2="321.8" y2="361.9" stroke="#adadad" stroke-width="1.65"/>
<line x1="337.8" y1="344.1" x2="313.8" y2="385.7" stroke="#adadad" stroke-width="1.65"/>
<path d="M320.5,389.4 A211.5,211.5 0 0 1 312.8,385.1" fill="none" stroke="#adadad" stroke-width="1.65"/>
<line x1="315.4" y1="386.6" x2="304.5" y2="405.7" stroke="#adadad" stroke-width="1.65"/>
<line x1="320.5" y1="389.4" x2="287.7" y2="451.4" stroke="#adadad" stroke-width="1.65"/>
<path d="M290.8,453.0 A281.6,281.6 0 0 1 284.7,449.7" fill="none" stroke="#adadad" stroke-width="1.65"/>
<line x1="348.6" y1="349.8" x2="328.6" y2="391.3" stroke="#adadad" stroke-width="1.65"/>
<path d="M331.3,392.5 A209.5,209.5 0 0 1 326.0,390.0" fill="none" stroke="#adadad" stroke-width="1.65"/>
<line x1="352.2" y1="351.5" x2="323.7" y2="414.7" stroke="#adadad" stroke-width="1.65"/>
<line x1="354.6" y1="352.6" x2="345.5" y2="373.5" stroke="#adadad" stroke-width="1.65"/>
<line x1="356.7" y1="353.4" x2="347.8" y2="374.7" stroke="#adadad" stroke-width="1.65"/>
<line x1="361.7" y1="355.4" x2="353.6" y2="377.0" stroke="#adadad" stroke-width="1.65"/>
<path d="M358.2,378.6 A186.5,186.5 0 0 1 351.5,376.1" fill="none" stroke="#adadad" stroke-width="1.65"/>
<line x1="352.1" y1="376.4" x2="334.9" y2="420.7" stroke="#adadad" stroke-width="1.65"/>
<line x1="357.9" y1="378.5" x2="313.6" y2="505.0" stroke="#adadad" stroke-width="1.65"/>
<line x1="369.1" y1="280.1" x2="343.6" y2="319.3" stroke="#adadad" stroke-width="1.65"/>
<path d="M345.3,320.4 A139.3,139.3 0 0 1 342.0,318.3" fill="none" stroke="#adadad" stroke-width="1.65"/>
<line x1="361.7" y1="274.7" x2="299.3" y2="352.8" stroke="#adadad" stroke-width="1.65"/>
<line x1="356.7" y1="270.4" x2="291.8" y2="340.4" stroke="#adadad" stroke-width="1.65"/>
<line x1="358.1" y1="271.7" x2="322.2" y2="312.1" stroke="#adadad" stroke-width="1.5"/>
<line x1="355.7" y1="269.5" x2="319.2" y2="307.9" stroke="#adadad" stroke-width="1.5"/>
<line x1="354.7" y1="268.5" x2="317.7" y2="306.1" stroke="#adadad" stroke-width="1.5"/>
<line x1="353.5" y1="267.3" x2="316.8" y2="303.4" stroke="#adadad" stroke-width="1.5"/>
<line x1="352.5" y1="266.3" x2="316.0" y2="301.0" stroke="#adadad" stroke-width="1.5"/>
<polygon points="351.3,265.1 360.8,274.0 344.0,291.9 335.1,284.6" fill="#b6b6b6" stroke="#b6b6b6" stroke-width="0.6"/>
<polyline points="316.1,298.8 335.1,284.9" fill="none" stroke="#adadad" stroke-width="2.4" stroke-linejoin="round"/>
<polyline points="316.7,305.8 336.8,289.1" fill="none" stroke="#adadad" stroke-width="2.4" stroke-linejoin="round"/>
<polyline points="321.2,311.4 338.8,293.8" fill="none" stroke="#adadad" stroke-width="2.4" stroke-linejoin="round"/>
<line x1="353.0" y1="266.8" x2="277.4" y2="339.7" stroke="#adadad" stroke-width="1.65"/>
<line x1="351.5" y1="265.2" x2="282.8" y2="328.6" stroke="#adadad" stroke-width="1.65"/>
<line x1="364.9" y1="277.1" x2="350.7" y2="296.5" stroke="#adadad" stroke-width="1.65"/>
<polygon points="326.7,271.2 365.2,244.5 368.0,249.5 331.8,278.5" fill="#b6b6b6" stroke="#b6b6b6" stroke-width="0.6"/>
<polyline points="319.5,275.9 327.0,271.8" fill="none" stroke="#adadad" stroke-width="2.6" stroke-linejoin="round"/>
<line x1="363.7" y1="243.2" x2="248.2" y2="327.4" stroke="#adadad" stroke-width="1.65"/>
<path d="M344.0,254.8 A91.8,91.8 0 0 1 336.0,240.7" fill="none" stroke="#adadad" stroke-width="1.65"/>
<line x1="362.4" y1="241.3" x2="343.6" y2="254.1" stroke="#adadad" stroke-width="2.3"/>
<line x1="360.6" y1="238.4" x2="341.1" y2="250.3" stroke="#adadad" stroke-width="2.3"/>
<line x1="359.0" y1="235.6" x2="339.0" y2="246.6" stroke="#adadad" stroke-width="2.3"/>
<line x1="357.7" y1="233.3" x2="337.3" y2="243.5" stroke="#adadad" stroke-width="2.3"/>
<line x1="356.9" y1="231.4" x2="336.2" y2="241.0" stroke="#adadad" stroke-width="1.65"/>
<line x1="342.5" y1="252.5" x2="322.0" y2="265.8" stroke="#adadad" stroke-width="1.65"/>
<line x1="340.3" y1="249.0" x2="319.4" y2="261.2" stroke="#adadad" stroke-width="1.65"/>
<line x1="338.4" y1="245.6" x2="296.6" y2="267.9" stroke="#adadad" stroke-width="1.65"/>
<line x1="336.6" y1="241.9" x2="314.7" y2="252.3" stroke="#adadad" stroke-width="1.65"/>
<line x1="335.6" y1="239.7" x2="291.6" y2="259.2" stroke="#adadad" stroke-width="1.65"/>
<line x1="355.8" y1="229.0" x2="334.6" y2="237.9" stroke="#adadad" stroke-width="1.65"/>
<line x1="355.0" y1="227.0" x2="254.0" y2="265.4" stroke="#adadad" stroke-width="1.65"/>
<line x1="354.7" y1="226.1" x2="310.2" y2="242.3" stroke="#adadad" stroke-width="1.65"/>
<path d="M311.3,245.1 A116.3,116.3 0 0 1 309.9,241.3" fill="none" stroke="#adadad" stroke-width="1.65"/>
<line x1="311.1" y1="244.7" x2="290.0" y2="253.0" stroke="#9dbbd8" stroke-width="1.65"/>
<line x1="354.2" y1="224.7" x2="222.6" y2="269.5" stroke="#3b76b6" stroke-width="1.8"/>
<line x1="353.7" y1="223.2" x2="331.3" y2="230.3" stroke="#adadad" stroke-width="1.6"/>
<line x1="353.2" y1="221.5" x2="330.6" y2="228.0" stroke="#adadad" stroke-width="1.6"/>
<line x1="352.7" y1="219.8" x2="329.9" y2="225.7" stroke="#adadad" stroke-width="1.6"/>
<line x1="352.3" y1="218.0" x2="329.4" y2="223.3" stroke="#adadad" stroke-width="1.6"/>
<line x1="330.8" y1="228.6" x2="308.2" y2="235.3" stroke="#adadad" stroke-width="1.9"/>
<line x1="330.5" y1="227.5" x2="307.8" y2="233.9" stroke="#adadad" stroke-width="1.9"/>
<line x1="330.2" y1="226.4" x2="307.5" y2="232.5" stroke="#adadad" stroke-width="1.9"/>
<line x1="329.9" y1="225.3" x2="307.1" y2="231.2" stroke="#adadad" stroke-width="1.9"/>
<line x1="329.6" y1="224.3" x2="306.8" y2="229.8" stroke="#adadad" stroke-width="1.9"/>
<line x1="329.4" y1="223.3" x2="306.5" y2="228.6" stroke="#adadad" stroke-width="1.9"/>
<line x1="308.9" y1="237.6" x2="280.0" y2="246.8" stroke="#adadad" stroke-width="1.4"/>
<line x1="308.5" y1="236.0" x2="279.3" y2="244.8" stroke="#adadad" stroke-width="1.4"/>
<line x1="308.0" y1="234.5" x2="278.8" y2="242.9" stroke="#adadad" stroke-width="1.4"/>
<line x1="307.6" y1="232.9" x2="278.2" y2="240.9" stroke="#adadad" stroke-width="1.4"/>
<line x1="307.1" y1="231.3" x2="277.7" y2="238.9" stroke="#adadad" stroke-width="1.4"/>
<line x1="308.2" y1="235.3" x2="279.1" y2="243.8" stroke="#d9b99a" stroke-width="1.0"/>
<line x1="307.8" y1="233.7" x2="278.5" y2="241.9" stroke="#d9b99a" stroke-width="1.0"/>
<line x1="279.7" y1="244.5" x2="238.9" y2="256.7" stroke="#adadad" stroke-width="1.65"/>
<line x1="278.1" y1="238.8" x2="237.6" y2="249.2" stroke="#adadad" stroke-width="1.65"/>
<line x1="352.1" y1="217.3" x2="236.3" y2="242.8" stroke="#adadad" stroke-width="1.65"/>
<path d="M283.7,234.9 A139.6,139.6 0 0 1 283.0,231.5" fill="none" stroke="#adadad" stroke-width="1.65"/>
<line x1="351.4" y1="213.9" x2="328.3" y2="217.8" stroke="#adadad" stroke-width="2.5"/>
<line x1="351.8" y1="215.7" x2="328.7" y2="220.1" stroke="#adadad" stroke-width="2.5"/>
<line x1="350.6" y1="206.8" x2="327.2" y2="208.3" stroke="#adadad" stroke-width="1.65"/>
<line x1="351.0" y1="210.9" x2="327.7" y2="213.8" stroke="#adadad" stroke-width="1.65"/>
<line x1="327.2" y1="208.3" x2="303.7" y2="209.8" stroke="#adadad" stroke-width="2.4"/>
<line x1="327.7" y1="213.8" x2="304.4" y2="216.6" stroke="#adadad" stroke-width="2.4"/>
<path d="M327.7,213.9 A92.5,92.5 0 0 1 327.2,208.1" fill="none" stroke="#adadad" stroke-width="1.65"/>
<line x1="350.8" y1="208.9" x2="327.4" y2="211.0" stroke="#adadad" stroke-width="1.65"/>
<path d="M304.6,218.6 A116.0,116.0 0 0 1 303.7,209.4" fill="none" stroke="#adadad" stroke-width="1.65"/>
<line x1="304.5" y1="217.4" x2="281.0" y2="220.5" stroke="#3b76b6" stroke-width="1.8"/>
<line x1="304.7" y1="219.0" x2="281.9" y2="222.3" stroke="#adadad" stroke-width="1.65"/>
<path d="M281.3,223.1 A139.7,139.7 0 0 1 280.8,218.8" fill="none" stroke="#3b76b6" stroke-width="1.8"/>
<polygon points="327.8,202.8 351.8,203.3 351.8,205.5 327.8,206.3" fill="#9a55f0" stroke="#9a55f0" stroke-width="0.6"/>
<polyline points="280.1,201.0 303.6,201.0" fill="none" stroke="#9a55f0" stroke-width="1.6" stroke-linejoin="round"/>
<polyline points="303.6,200.8 327.8,201.8 351.8,203.0" fill="none" stroke="#9a55f0" stroke-width="2.2" stroke-linejoin="round"/>
<polyline points="303.7,199.6 303.9,202.0" fill="none" stroke="#9a55f0" stroke-width="1.6" stroke-linejoin="round"/>
<polygon points="327.8,190.9 352.1,193.8 352.1,198.5 327.8,197.6" fill="#b6b6b6" stroke="#b6b6b6" stroke-width="0.6"/>
<line x1="327.4" y1="194.4" x2="303.6" y2="192.4" stroke="#adadad" stroke-width="2.3"/>
<line x1="327.5" y1="192.8" x2="303.8" y2="190.3" stroke="#adadad" stroke-width="2.3"/>
<line x1="327.7" y1="191.2" x2="304.1" y2="188.3" stroke="#adadad" stroke-width="2.3"/>
<line x1="327.2" y1="195.7" x2="303.5" y2="194.0" stroke="#adadad" stroke-width="1.5"/>
<line x1="327.8" y1="190.3" x2="258.3" y2="181.0" stroke="#cb3f58" stroke-width="1.8"/>
</g>
</svg></body></html>
